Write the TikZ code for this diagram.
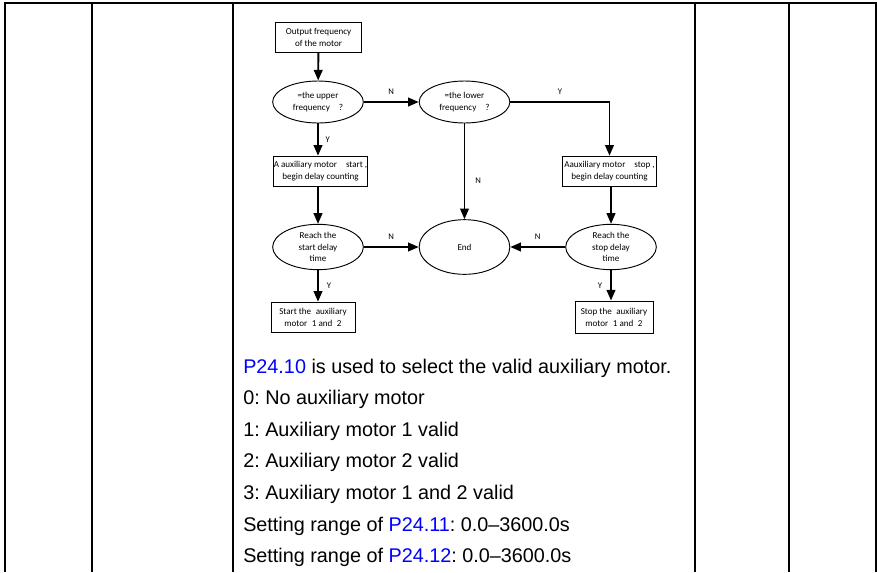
\documentclass[tikz,border=0pt]{standalone}
\usepackage{fontspec}
\setmainfont{Liberation Sans}
\newfontfamily\flowfont{Carlito}
\usepackage{xcolor}
\usepackage{tikz}
\usetikzlibrary{arrows.meta,shapes.geometric}
\definecolor{paramblue}{HTML}{0000FF}
\frenchspacing

\begin{document}
\begin{tikzpicture}[
      x=0.75pt, y=-0.75pt,
      every node/.style={font=\flowfont\fontsize{6.8}{9}\selectfont, inner sep=0pt},
      box/.style={draw, line width=0.7pt, align=center, minimum height=23pt},
      dec/.style={draw, ellipse, line width=0.7pt, align=center,
                  minimum width=68pt, minimum height=#1},
      dec/.default=31.5pt,
      arr/.style={-{Triangle[length=8pt,width=6.5pt]}, line width=1.4pt},
      lbl/.style={font=\flowfont\fontsize{6.5}{8}\selectfont},
      grid/.style={line width=1.5pt},
      txt/.style={anchor=base west, font=\fontsize{14.85}{17}\selectfont}
  ]
    \useasboundingbox (0,0) rectangle (877,572);

    % --- Table frame ---
    \draw[grid] (4,3) -- (877,3);
    \foreach \x in {5, 92, 233, 695, 789, 876} {
      \draw[grid] (\x,3) -- (\x,572);
    }

    % --- Flowchart ---
    \node[box, minimum width=64pt, minimum height=22pt] (output) at (318.5,37.5)
          {Output frequency\\of the motor};
    \node[dec] (upper) at (318,102) {=the upper\\frequency\quad ?};
    \node[dec] (lower) at (464.5,102) {=the lower\\frequency\quad ?};

    \node[box, minimum width=70pt] (startcnt) at (320.5,171.5)
          {A auxiliary motor\quad start ,\\begin delay counting};
    \node[box, minimum width=71pt] (stopcnt) at (609.5,171.5)
          {Aauxiliary motor\quad stop ,\\begin delay counting};

    \node[dec=34pt, font=\flowfont\fontsize{6.8}{8.6}\selectfont] (startdly) at (318,247)
          {Reach the\\start delay\\time};
    \node[dec=41pt] (theend) at (464.5,247) {End};
    \node[dec=34pt, font=\flowfont\fontsize{6.8}{8.6}\selectfont] (stopdly) at (611,247)
          {Reach the\\stop delay\\time};

    \node[box, minimum width=63pt] (startaux) at (313,317.5)
          {Start the\enspace auxiliary\\motor\enspace 1 and\enspace 2};
    \node[box, minimum width=58.5pt, minimum height=24pt] (stopaux) at (614,317)
          {Stop the\enspace auxiliary\\motor\enspace 1 and\enspace 2};

    % connectors
    \draw[arr] (output) -- (upper);
    \draw[arr] (upper) -- (lower) node[lbl, midway, above=5pt] {N};
    \draw[arr] (upper) -- (upper |- startcnt.north) node[lbl, midway, right=5pt] {Y};
    \draw[arr] (lower.east) -| (stopcnt.north) node[lbl, pos=0.25, above=5pt] {Y};
    \draw[arr] (lower) -- (theend) node[lbl, pos=0.6, right=7.5pt] {N};
    \draw[arr] (startcnt.south -| startdly) -- (startdly);
    \draw[arr] (stopcnt.south -| stopdly) -- (stopdly);
    \draw[arr] (startdly) -- (theend) node[lbl, midway, above=5pt] {N};
    \draw[arr] (stopdly) -- (theend) node[lbl, midway, above=5pt] {N};
    \draw[arr] (startdly) -- (startdly |- startaux.north) node[lbl, midway, right=6pt] {Y};
    \draw[arr] (stopdly) -- (stopdly |- stopaux.north) node[lbl, midway, left=6pt] {Y};

    % --- Description lines ---
    \node[txt] (sel) at (243,373)
          {\textcolor{paramblue}{P24.10} is used to select the valid auxiliary motor.};
    \node[txt] (opt0) at (243,404.6) {0: No auxiliary motor};
    \node[txt] (opt1) at (243,436.2) {1: Auxiliary motor 1 valid};
    \node[txt] (opt2) at (243,467.8) {2: Auxiliary motor 2 valid};
    \node[txt] (opt3) at (243,499.4) {3: Auxiliary motor 1 and 2 valid};
    \node[txt] (rng1) at (243,531)
          {Setting range of \textcolor{paramblue}{P24.11}: 0.0\textendash3600.0s};
    \node[txt] (rng2) at (243,562.6)
          {Setting range of \textcolor{paramblue}{P24.12}: 0.0\textendash3600.0s};

  \end{tikzpicture}
\end{document}
